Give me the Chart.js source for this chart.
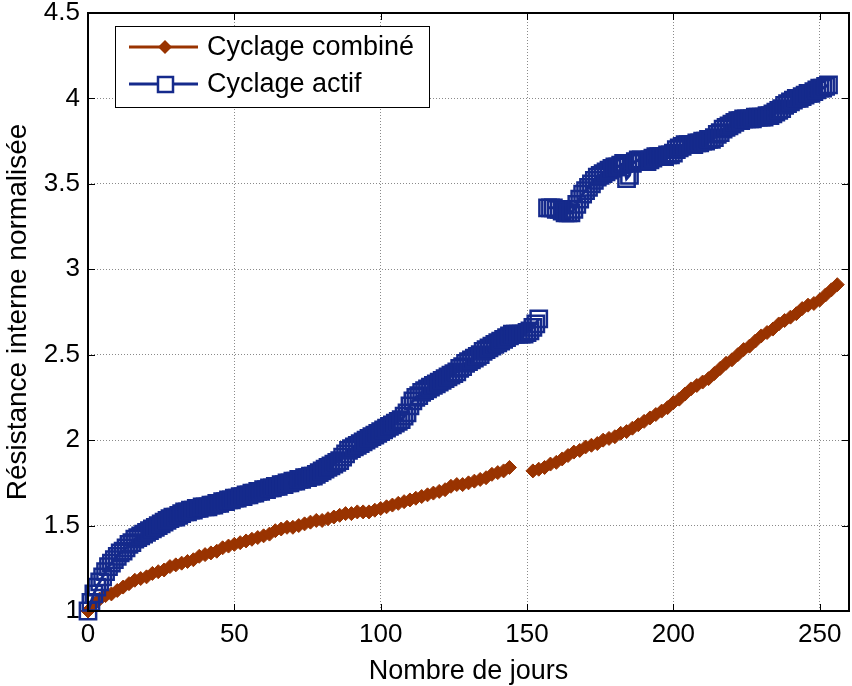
<!DOCTYPE html>
<html>
<head>
<meta charset="utf-8">
<script src="https://cdn.jsdelivr.net/npm/chart.js@4.4.1/dist/chart.umd.min.js"></script>
<style>
  html, body { margin: 0; padding: 0; background: #fff; }
  canvas { display: block; }
</style>
</head>
<body>
<canvas id="graphique" width="852" height="686"></canvas>
<script>
// Cyclage combiné : un relevé tous les 2 jours, deux tronçons
const debutCombine1 = 0;
const pasCombine = 2;
const valeursCombine1 = [
  1.00, 1.04, 1.07, 1.09, 1.10, 1.12, 1.14, 1.16, 1.18, 1.19,
  1.20, 1.22, 1.23, 1.24, 1.26, 1.27, 1.28, 1.29, 1.30, 1.32,
  1.33, 1.34, 1.35, 1.37, 1.38, 1.39, 1.40, 1.41, 1.42, 1.43,
  1.44, 1.45, 1.47, 1.48, 1.49, 1.49, 1.50, 1.51, 1.52, 1.53,
  1.53, 1.54, 1.55, 1.56, 1.57, 1.57, 1.58, 1.58, 1.58, 1.59,
  1.60, 1.61, 1.62, 1.63, 1.64, 1.65, 1.66, 1.67, 1.68, 1.69,
  1.70, 1.71, 1.73, 1.74, 1.74, 1.75, 1.76, 1.77, 1.78, 1.80,
  1.81, 1.82, 1.84];
const debutCombine2 = 152;
const valeursCombine2 = [
  1.82, 1.83, 1.84, 1.86, 1.87, 1.89, 1.91, 1.93, 1.94, 1.96,
  1.97, 1.98, 2.00, 2.01, 2.02, 2.04, 2.05, 2.07, 2.09, 2.11,
  2.13, 2.15, 2.17, 2.19, 2.22, 2.24, 2.27, 2.30, 2.32, 2.34,
  2.36, 2.39, 2.42, 2.45, 2.47, 2.50, 2.53, 2.55, 2.58, 2.61,
  2.63, 2.65, 2.68, 2.70, 2.72, 2.74, 2.77, 2.79, 2.80, 2.82,
  2.85, 2.88, 2.91];

// Cyclage actif : un relevé par jour, deux tronçons
const debutActif1 = 0;
const pasActif = 1;
const valeursActif1 = [
  1.00, 1.05, 1.10, 1.14, 1.17, 1.20, 1.23, 1.26, 1.28, 1.30,
  1.32, 1.34, 1.35, 1.37, 1.39, 1.40, 1.42, 1.43, 1.44, 1.45,
  1.46, 1.47, 1.48, 1.49, 1.50, 1.51, 1.52, 1.53, 1.54, 1.55,
  1.55, 1.56, 1.57, 1.58, 1.58, 1.59, 1.59, 1.60, 1.60, 1.61,
  1.61, 1.61, 1.62, 1.62, 1.63, 1.63, 1.64, 1.64, 1.65, 1.65,
  1.66, 1.66, 1.67, 1.67, 1.68, 1.68, 1.69, 1.69, 1.70, 1.70,
  1.71, 1.71, 1.72, 1.72, 1.73, 1.73, 1.74, 1.74, 1.75, 1.75,
  1.76, 1.76, 1.77, 1.77, 1.78, 1.78, 1.79, 1.79, 1.80, 1.81,
  1.82, 1.83, 1.84, 1.85, 1.86, 1.87, 1.88, 1.90, 1.92, 1.94,
  1.95, 1.96, 1.97, 1.98, 1.99, 2.00, 2.01, 2.02, 2.03, 2.04,
  2.05, 2.06, 2.07, 2.08, 2.09, 2.10, 2.11, 2.12, 2.14, 2.16,
  2.20, 2.23, 2.25, 2.26, 2.28, 2.29, 2.30, 2.31, 2.32, 2.33,
  2.34, 2.35, 2.36, 2.37, 2.38, 2.39, 2.40, 2.42, 2.43, 2.45,
  2.46, 2.47, 2.48, 2.49, 2.50, 2.52, 2.53, 2.54, 2.55, 2.56,
  2.57, 2.58, 2.59, 2.60, 2.61, 2.62, 2.62, 2.62, 2.62, 2.62,
  2.63, 2.64, 2.66, 2.68, 2.71];
const debutActif2 = 157;
const valeursActif2 = [
  3.36, 3.36, 3.36, 3.35, 3.35, 3.34, 3.33, 3.33, 3.33, 3.35,
  3.38, 3.41, 3.44, 3.46, 3.48, 3.50, 3.52, 3.54, 3.55, 3.56,
  3.57, 3.58, 3.59, 3.60, 3.60, 3.61, 3.62, 3.53, 3.55, 3.62,
  3.63, 3.64, 3.64, 3.63, 3.63, 3.64, 3.65, 3.66, 3.66, 3.66,
  3.66, 3.67, 3.67, 3.68, 3.70, 3.71, 3.72, 3.73, 3.73, 3.73,
  3.73, 3.74, 3.74, 3.75, 3.75, 3.76, 3.76, 3.77, 3.79, 3.80,
  3.82, 3.83, 3.84, 3.85, 3.86, 3.87, 3.87, 3.88, 3.88, 3.88,
  3.88, 3.89, 3.89, 3.89, 3.89, 3.90, 3.90, 3.91, 3.92, 3.93,
  3.94, 3.96, 3.97, 3.98, 3.99, 4.00, 4.00, 4.01, 4.02, 4.03,
  4.03, 4.04, 4.05, 4.06, 4.06, 4.07, 4.08];

const ticksX = [0, 50, 100, 150, 200, 250];
const ticksY = [1, 1.5, 2, 2.5, 3, 3.5, 4, 4.5];
const libelles = ['Cyclage combiné', 'Cyclage actif'];

const couleurCombine = '#993300';
const couleurActif = '#152a8c';
const police = '"Liberation Sans", Arial, sans-serif';

function points(debut, pas, valeurs) {
  return valeurs.map((v, i) => ({ x: debut + i * pas, y: v }));
}

function serieCombine(debut, valeurs) {
  return {
    label: libelles[0],
    data: points(debut, pasCombine, valeurs),
    borderColor: couleurCombine,
    backgroundColor: couleurCombine,
    borderWidth: 3,
    pointStyle: 'rectRot',
    pointRadius: 7,
    pointBorderWidth: 1,
    pointBackgroundColor: couleurCombine,
    pointBorderColor: couleurCombine,
    tension: 0,
    clip: false,
    order: 2
  };
}

function serieActif(debut, valeurs) {
  return {
    label: libelles[1],
    data: points(debut, pasActif, valeurs),
    borderColor: couleurActif,
    backgroundColor: 'rgba(0,0,0,0)',
    borderWidth: 3,
    pointStyle: 'rect',
    pointRadius: 11.5,
    pointBorderWidth: 2.5,
    pointBackgroundColor: 'rgba(0,0,0,0)',
    pointBorderColor: couleurActif,
    tension: 0,
    clip: false,
    order: 1
  };
}

// cadre complet + petites graduations vers l'intérieur, façon MATLAB
const cadreMatlab = {
  id: 'cadreMatlab',
  afterDatasetsDraw(chart) {
    const ctx = chart.ctx;
    const a = chart.chartArea;
    const sx = chart.scales.x;
    const sy = chart.scales.y;
    ctx.save();
    ctx.strokeStyle = '#000';
    ctx.lineWidth = 1;
    ctx.beginPath();
    ticksX.forEach(v => {
      const px = Math.round(sx.getPixelForValue(v)) + 0.5;
      ctx.moveTo(px, a.bottom); ctx.lineTo(px, a.bottom - 7);
      ctx.moveTo(px, a.top); ctx.lineTo(px, a.top + 7);
    });
    ticksY.forEach(v => {
      const py = Math.round(sy.getPixelForValue(v)) + 0.5;
      ctx.moveTo(a.left, py); ctx.lineTo(a.left + 7, py);
      ctx.moveTo(a.right, py); ctx.lineTo(a.right - 7, py);
    });
    ctx.stroke();
    ctx.lineWidth = 2;
    ctx.strokeRect(a.left, a.top, a.right - a.left, a.bottom - a.top);
    ctx.restore();
  }
};

const legendeBoite = {
  id: 'legendeBoite',
  afterDraw(chart) {
    const ctx = chart.ctx;
    ctx.save();
    ctx.fillStyle = '#fff';
    ctx.fillRect(115, 26, 314, 81);
    ctx.strokeStyle = '#000';
    ctx.lineWidth = 1;
    ctx.strokeRect(115.5, 26.5, 314, 81);

    // ligne 1 : cyclage combiné
    ctx.strokeStyle = couleurCombine;
    ctx.lineWidth = 3;
    ctx.beginPath(); ctx.moveTo(129, 47); ctx.lineTo(198, 47); ctx.stroke();
    ctx.fillStyle = couleurCombine;
    ctx.beginPath();
    ctx.moveTo(165, 40); ctx.lineTo(172, 47); ctx.lineTo(165, 54); ctx.lineTo(158, 47);
    ctx.closePath(); ctx.fill();

    // ligne 2 : cyclage actif
    ctx.strokeStyle = couleurActif;
    ctx.beginPath(); ctx.moveTo(129, 84); ctx.lineTo(198, 84); ctx.stroke();
    ctx.lineWidth = 2.5;
    ctx.fillStyle = '#fff';
    ctx.fillRect(158, 77, 15, 15);
    ctx.strokeRect(158, 77, 15, 15);

    ctx.fillStyle = '#000';
    ctx.font = '27px ' + police;
    ctx.textBaseline = 'middle';
    ctx.fillText(chart.data.datasets[0].label, 207, 48);
    ctx.fillText(chart.data.datasets[2].label, 207, 85);
    ctx.restore();
  }
};

new Chart(document.getElementById('graphique'), {
  type: 'line',
  data: {
    datasets: [
      serieCombine(debutCombine1, valeursCombine1),
      serieCombine(debutCombine2, valeursCombine2),
      serieActif(debutActif1, valeursActif1),
      serieActif(debutActif2, valeursActif2)
    ]
  },
  options: {
    responsive: false,
    animation: false,
    layout: { autoPadding: false, padding: { top: 13, right: 3, left: 0, bottom: 0 } },
    plugins: {
      legend: { display: false },
      tooltip: { enabled: false }
    },
    scales: {
      x: {
        type: 'linear',
        min: 0,
        max: 260,
        afterBuildTicks: s => { s.ticks = ticksX.map(v => ({ value: v })); },
        afterFit: s => { s.height = 75; s.paddingLeft = 0; s.paddingRight = 0; },
        ticks: { color: '#000', font: { family: police, size: 26 }, padding: 8, maxRotation: 0 },
        grid: { color: '#8a8a8a', drawTicks: false, lineWidth: 1 },
        border: { display: false, dash: [1, 2] },
        title: { display: true, text: 'Nombre de jours', color: '#000', font: { family: police, size: 27, lineHeight: 1 }, padding: { top: 0, bottom: 1 } }
      },
      y: {
        type: 'linear',
        min: 1,
        max: 4.5,
        afterBuildTicks: s => { s.ticks = ticksY.map(v => ({ value: v })); },
        afterFit: s => { s.width = 88; s.paddingTop = 0; s.paddingBottom = 0; },
        ticks: { color: '#000', font: { family: police, size: 26 }, padding: 8, callback: v => String(v) },
        grid: { color: '#8a8a8a', drawTicks: false, lineWidth: 1 },
        border: { display: false, dash: [1, 2] },
        title: { display: true, text: 'Résistance interne normalisée', color: '#000', font: { family: police, size: 28 }, padding: { top: 1, bottom: 0 } }
      }
    }
  },
  plugins: [cadreMatlab, legendeBoite]
});
</script>
</body>
</html>
